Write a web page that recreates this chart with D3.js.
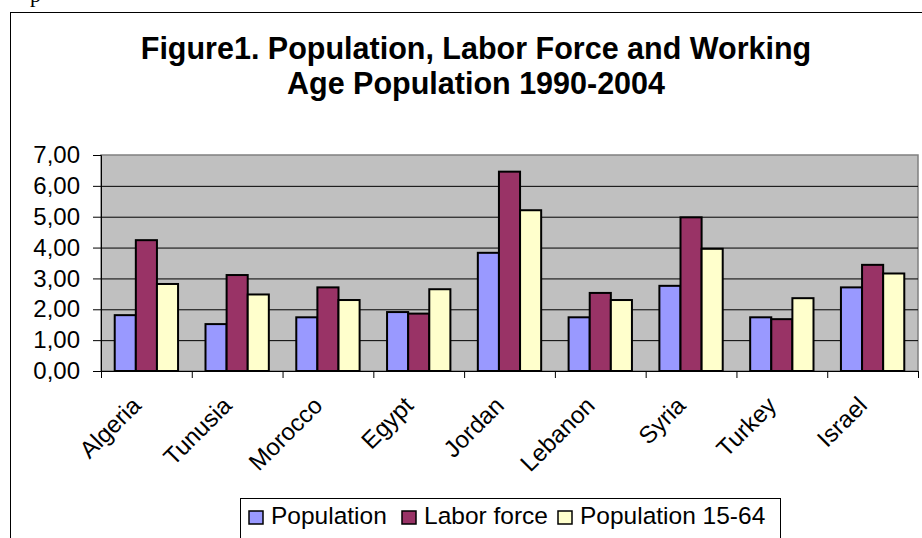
<!DOCTYPE html>
<html>
<head>
<meta charset="utf-8">
<script src="https://cdn.jsdelivr.net/npm/d3@7"></script>
<style>
  body { margin: 0; background: #fff; }
  text { font-family: "Liberation Sans", Arial, sans-serif; }
</style>
</head>
<body>
<div id="chart"></div>
<script>
var categories = ['Algeria', 'Tunusia', 'Morocco', 'Egypt', 'Jordan', 'Lebanon', 'Syria', 'Turkey', 'Israel'];
var population = [1.81, 1.52, 1.74, 1.91, 3.83, 1.74, 2.76, 1.74, 2.71];
var labor_force = [4.24, 3.11, 2.71, 1.86, 6.46, 2.53, 4.98, 1.68, 3.44];
var working_age = [2.82, 2.48, 2.30, 2.65, 5.21, 2.30, 3.96, 2.36, 3.16];
var series_names = ['Population', 'Labor force', 'Population 15-64'];
var series_colors = ['#9999FF', '#993366', '#FFFFCC'];
var y_ticks = [0, 1, 2, 3, 4, 5, 6, 7];
var title_lines = ['Figure1. Population, Labor Force and Working', 'Age Population 1990-2004'];

var chart_width = 922;
var chart_height = 538;
var plot = {left: 101, right: 918, top: 155, bottom: 371};

var svg = d3.select('#chart')
    .append('svg')
    .attr('width', chart_width)
    .attr('height', chart_height);

// stray text from the page above the chart
svg.append('text')
    .attr('x', 30)
    .attr('y', 2)
    .style('font-family', '"Liberation Serif", "Times New Roman", serif')
    .style('font-size', '22px')
    .text('p');

// chart area border
svg.append('rect')
    .attr('x', 10.5)
    .attr('y', 12.5)
    .attr('width', 940)
    .attr('height', 560)
    .attr('fill', '#fff')
    .attr('stroke', '#000');

// title
svg.append('text')
    .attr('x', 476)
    .attr('y', 59)
    .attr('text-anchor', 'middle')
    .style('font-weight', 'bold')
    .style('font-size', '30.5px')
    .selectAll('tspan')
    .data(title_lines)
    .enter()
    .append('tspan')
    .attr('x', 476)
    .attr('dy', function(d, i){ return i === 0 ? 0 : 35; })
    .text(function(d){ return d; });

// scales
var y_scale = d3.scaleLinear()
    .domain([0, 7])
    .range([plot.bottom, plot.top]);

var x0 = d3.scaleBand()
    .domain(categories)
    .range([plot.left, plot.right]);

var gap = x0.bandwidth() * 1.3 / 4.3;
var x1 = d3.scaleBand()
    .domain(series_names)
    .range([gap / 2, x0.bandwidth() - gap / 2]);

var x_bounds = d3.scaleLinear()
    .domain([0, categories.length])
    .range([plot.left, plot.right]);

// plot area
svg.append('rect')
    .attr('x', plot.left)
    .attr('y', plot.top)
    .attr('width', plot.right - plot.left)
    .attr('height', plot.bottom - plot.top)
    .attr('fill', '#C0C0C0')
    .attr('stroke', '#808080')
    .attr('stroke-width', 1.5);

// gridlines
var grid = svg.append('g')
    .attr('transform', 'translate(' + plot.left + ',0)')
    .call(d3.axisLeft(y_scale)
        .tickValues(y_ticks.slice(1, -1))
        .tickSize(-(plot.right - plot.left))
        .tickFormat(''));
grid.select('.domain').remove();
grid.selectAll('line').attr('stroke', '#000').attr('stroke-width', 1);

// bars
var table = categories.map(function(c, i){
    return {category: c, values: [population[i], labor_force[i], working_age[i]]};
});

var groups = svg.append('g')
    .selectAll('g')
    .data(table)
    .enter()
    .append('g')
    .attr('transform', function(d){ return 'translate(' + x0(d.category) + ',0)'; });

groups.selectAll('rect')
    .data(function(d){
        return d.values.map(function(v, j){ return {name: series_names[j], value: v, color: series_colors[j]}; });
    })
    .enter()
    .append('rect')
    .attr('x', function(d){ return x1(d.name); })
    .attr('y', function(d){ return y_scale(d.value); })
    .attr('width', x1.bandwidth())
    .attr('height', function(d){ return plot.bottom - y_scale(d.value); })
    .attr('fill', function(d){ return d.color; })
    .attr('stroke', '#000')
    .attr('stroke-width', 2);

// y axis
var y_axis = svg.append('g')
    .attr('transform', 'translate(' + plot.left + ',0)')
    .call(d3.axisLeft(y_scale)
        .tickValues(y_ticks)
        .tickSize(8)
        .tickPadding(13)
        .tickFormat(function(d){ return d3.format('.2f')(d).replace('.', ','); }));
y_axis.selectAll('text').style('font-size', '24px').attr('fill', '#000');
y_axis.selectAll('line, path').attr('stroke', '#000');

// x axis, ticks at category boundaries
var x_axis = svg.append('g')
    .attr('transform', 'translate(0,' + plot.bottom + ')')
    .call(d3.axisBottom(x_bounds)
        .tickValues(d3.range(categories.length + 1))
        .tickSize(7)
        .tickSizeOuter(0)
        .tickFormat(''));
x_axis.selectAll('line, path').attr('stroke', '#000');

// category labels
var x_labels = svg.append('g')
    .attr('transform', 'translate(0,' + plot.bottom + ')')
    .call(d3.axisBottom(x0).tickSize(0).tickSizeOuter(0));
x_labels.select('.domain').remove();
x_labels.selectAll('text')
    .attr('x', 0)
    .attr('y', 0)
    .attr('dy', 0)
    .attr('text-anchor', 'end')
    .attr('transform', 'translate(-4,36) rotate(-45)')
    .style('font-size', '24px')
    .attr('fill', '#000');

// legend
var legend = svg.append('g');
legend.append('rect')
    .attr('x', 240.5)
    .attr('y', 498.5)
    .attr('width', 540)
    .attr('height', 60)
    .attr('fill', '#fff')
    .attr('stroke', '#000');

var legend_x = [249, 402, 558];
var items = legend.selectAll('g.item')
    .data(series_names)
    .enter()
    .append('g')
    .attr('class', 'item')
    .attr('transform', function(d, i){ return 'translate(' + legend_x[i] + ',511)'; });

items.append('rect')
    .attr('width', 14)
    .attr('height', 13)
    .attr('fill', function(d, i){ return series_colors[i]; })
    .attr('stroke', '#000')
    .attr('stroke-width', 1.5);

items.append('text')
    .attr('x', 22)
    .attr('y', 13)
    .style('font-size', '24.5px')
    .text(function(d){ return d; });
</script>
</body>
</html>
